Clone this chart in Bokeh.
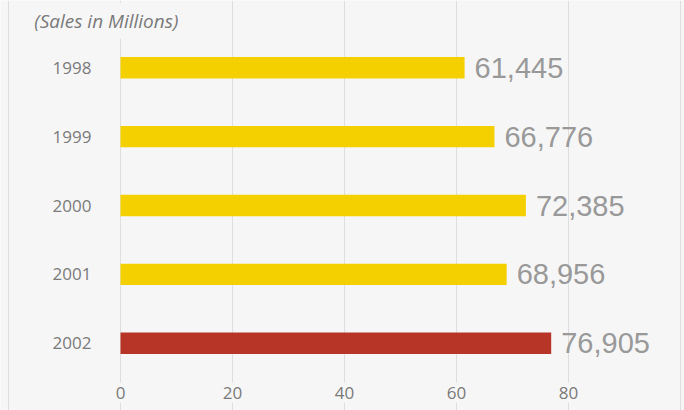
from bokeh.plotting import figure
from bokeh.models import ColumnDataSource, Range1d, FactorRange, Grid, FixedTicker
from bokeh.core.properties import value
from bokeh.embed import file_html
from bokeh.resources import INLINE

# ---- data ----
years = ["1998", "1999", "2000", "2001", "2002"]
sales = [61445, 66776, 72385, 68956, 76905]
tick_values = [0, 20, 40, 60, 80]
grid_values = [-20, 0, 20, 40, 60, 80, 100]
title_text = "(Sales in Millions)"
highlight_year = "2002"

# ---- styles ----
BG = "#f6f6f6"
YELLOW = "#f5d000"
RED = "#b63526"
GRID = "#dedede"
LABEL_GREY = "#7a7a7a"
VALUE_GREY = "#999999"

bar_len = [s / 1000 for s in sales]
labels = [f"{s:,}" for s in sales]
colors = [RED if y == highlight_year else YELLOW for y in years]

src = ColumnDataSource(dict(year=years, length=bar_len, label=labels, color=colors))

p = figure(width=684, height=410,
           x_range=Range1d(-21.43, 100.71),
           y_range=FactorRange(factors=list(reversed(years)), range_padding=0.476,
                               range_padding_units="absolute"),
           x_axis_location=None, y_axis_location=None,
           toolbar_location=None, output_backend="svg", min_border=0)
p.background_fill_color = BG
p.border_fill_color = BG
p.outline_line_color = None
for g in list(p.grid):
    g.visible = False

p.add_layout(Grid(dimension=0, ticker=FixedTicker(ticks=grid_values),
                  grid_line_color=GRID, grid_line_width=1))

p.hbar(y="year", left=0, right="length", height=0.31, fill_color="color",
       line_color=None, source=src)

# value labels
p.text(x="length", y="year", text="label", x_offset=10, text_baseline="middle",
       text_font=value("Liberation Sans"), text_font_size="29px",
       text_color=VALUE_GREY, source=src)

# category labels
p.text(x=-5.18, y="year", text="year", text_align="right", text_baseline="middle",
       text_font=value("Open Sans"), text_font_size="17px", text_color=LABEL_GREY,
       source=src)

# x tick labels
tick_src = ColumnDataSource(dict(x=tick_values, y=[-0.217] * len(tick_values),
                                 text=[str(t) for t in tick_values]))
p.text(x="x", y="y", text="text", text_align="center", text_baseline="middle",
       text_font=value("Open Sans"), text_font_size="17px", text_color=LABEL_GREY,
       background_fill_color=BG, padding=4, source=tick_src)

# title
title_src = ColumnDataSource(dict(x=[-16.3], y=[5.182], text=[title_text]))
p.text(x="x", y="y", text="text", text_align="left", text_baseline="middle",
       text_font=value("Open Sans"), text_font_size="19px", text_font_style="italic",
       text_color=LABEL_GREY, background_fill_color=BG, padding=5, source=title_src)

open("out.html", "w").write(file_html(p, INLINE))
